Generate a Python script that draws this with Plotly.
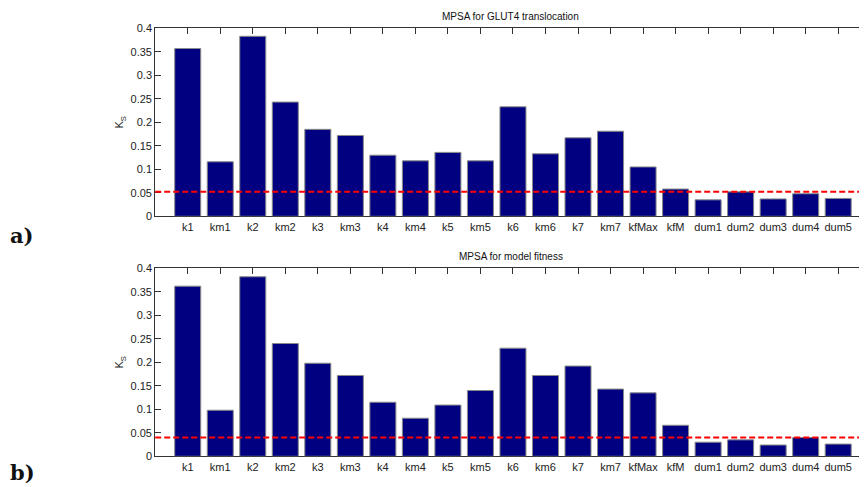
import plotly.graph_objects as go

params = ["k1", "km1", "k2", "km2", "k3", "km3", "k4", "km4", "k5", "km5",
          "k6", "km6", "k7", "km7", "kfMax", "kfM", "dum1", "dum2", "dum3", "dum4", "dum5"]
ks_glut4 = [0.357, 0.116, 0.383, 0.243, 0.185, 0.172, 0.130, 0.118, 0.136, 0.118,
            0.233, 0.133, 0.167, 0.181, 0.105, 0.058, 0.035, 0.052, 0.037, 0.048, 0.038]
ks_fitness = [0.362, 0.098, 0.382, 0.240, 0.198, 0.172, 0.115, 0.081, 0.109, 0.140,
              0.230, 0.172, 0.192, 0.143, 0.135, 0.066, 0.030, 0.035, 0.024, 0.040, 0.026]
threshold_glut4 = 0.052
threshold_fitness = 0.040
yticks = [0, 0.05, 0.1, 0.15, 0.2, 0.25, 0.3, 0.35, 0.4]
ytick_text = ["0", "0.05", "0.1", "0.15", "0.2", "0.25", "0.3", "0.35", "0.4"]
titles = ["MPSA for GLUT4 translocation", "MPSA for model fitness"]
panel_labels = ["a)", "b)"]

# page has an 8px body margin; figure sized to fit inside the 867x487 window
OFF = 8
W, H = 867 - OFF, 487 - OFF
xpos = list(range(1, len(params) + 1))


def px_x(p):
    return (p - OFF) / W


def px_y(p):
    return 1 - (p - OFF) / H


fig = go.Figure()
for i, vals in enumerate([ks_glut4, ks_fitness]):
    sfx = "" if i == 0 else "2"
    fig.add_trace(go.Bar(
        x=xpos, y=vals, width=0.8,
        marker=dict(color="#000080", line=dict(color="#8a8a8a", width=1)),
        xaxis="x" + sfx, yaxis="y" + sfx, showlegend=False,
    ))

font = dict(family="Liberation Sans, Arial, sans-serif", size=11, color="#222")
x_dom = [px_x(155.2), px_x(866.5)]
y_doms = [[px_y(216.3), px_y(28.3)], [px_y(456.3), px_y(268.3)]]

axcommon = dict(showline=True, linecolor="#333", linewidth=1, mirror="ticks",
                ticks="inside", ticklen=6, tickcolor="#333", showgrid=False,
                zeroline=False, tickfont=font, layer="below traces", automargin=False)

layout = dict(width=W, height=H, margin=dict(l=0, r=0, t=0, b=0, autoexpand=False),
              paper_bgcolor="white", plot_bgcolor="white", bargap=0.2)
for i in range(2):
    sfx = "" if i == 0 else "2"
    layout["xaxis" + sfx] = dict(domain=x_dom, range=[0, 21.87], anchor="y" + sfx,
                                 tickvals=xpos, ticktext=params, **axcommon)
    layout["yaxis" + sfx] = dict(domain=y_doms[i], range=[0, 0.4], anchor="x" + sfx,
                                 tickvals=yticks, ticktext=ytick_text,
                                 title=dict(text="K<sub>S</sub>", font=font, standoff=4),
                                 **axcommon)
fig.update_layout(**layout)

thresholds = [threshold_glut4, threshold_fitness]
title_y = [17, 257]
for i in range(2):
    sfx = "" if i == 0 else "2"
    fig.add_shape(type="line", xref="x" + sfx + " domain", yref="y" + sfx,
                  x0=0, x1=1, y0=thresholds[i], y1=thresholds[i],
                  line=dict(color="#ff0000", width=2, dash="6px,3px"))
    fig.add_annotation(text=titles[i], xref="paper", yref="paper",
                       x=(x_dom[0] + x_dom[1]) / 2, y=px_y(title_y[i]),
                       showarrow=False, font=dict(family="Liberation Sans, Arial, sans-serif",
                                                  size=10, color="#111"),
                       yanchor="middle", xanchor="center")

label_y = [235, 472]
for i in range(2):
    fig.add_annotation(text="<b>" + panel_labels[i] + "</b>", xref="paper", yref="paper",
                       x=px_x(8), y=px_y(label_y[i]), xanchor="left", yanchor="middle",
                       showarrow=False,
                       font=dict(family="DejaVu Serif, Liberation Serif, serif", size=21, color="#111"))

fig.write_html("out.html")
